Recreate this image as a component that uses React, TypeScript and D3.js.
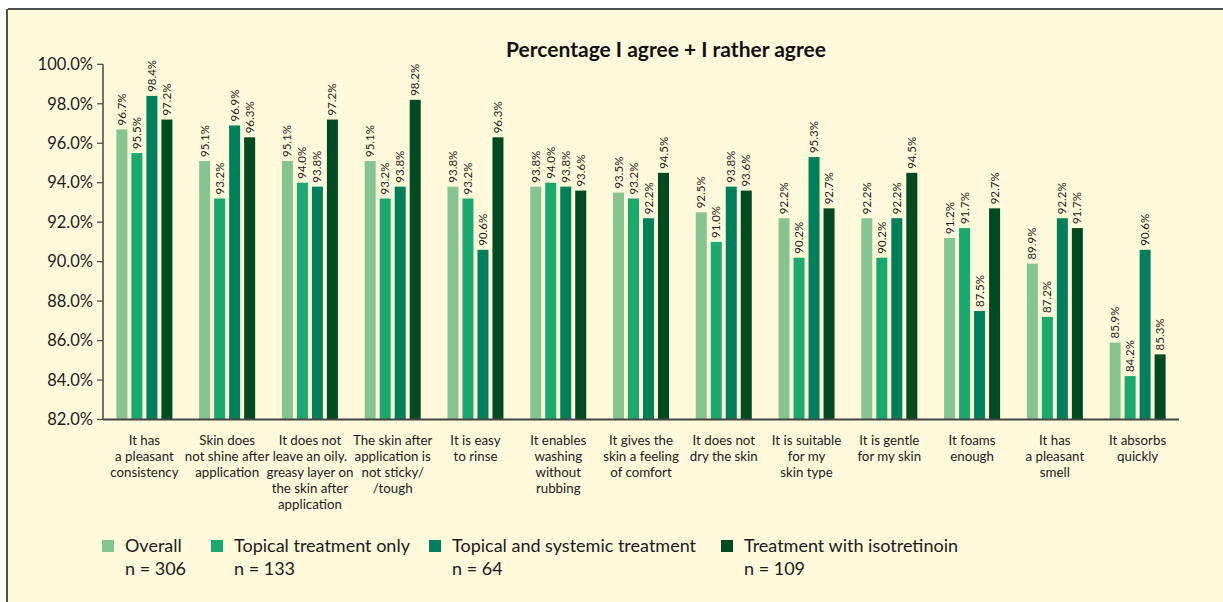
import React from "react";
import * as d3 from "d3";

const categories: string[][] = [
  ["It has", "a pleasant", "consistency"],
  ["Skin does", "not shine after", "application"],
  ["It does not", "leave an oily.", "greasy layer on", "the skin after", "application"],
  ["The skin after", "application is", "not sticky/", "/tough"],
  ["It is easy", "to rinse"],
  ["It enables", "washing", "without", "rubbing"],
  ["It gives the", "skin a feeling", "of comfort"],
  ["It does not", "dry the skin"],
  ["It is suitable", "for my", "skin type"],
  ["It is gentle", "for my skin"],
  ["It foams", "enough"],
  ["It has", "a pleasant", "smell"],
  ["It absorbs", "quickly"],
];

const overall = [96.7, 95.1, 95.1, 95.1, 93.8, 93.8, 93.5, 92.5, 92.2, 92.2, 91.2, 89.9, 85.9];
const topicalOnly = [95.5, 93.2, 94.0, 93.2, 93.2, 94.0, 93.2, 91.0, 90.2, 90.2, 91.7, 87.2, 84.2];
const topicalSystemic = [98.4, 96.9, 93.8, 93.8, 90.6, 93.8, 92.2, 93.8, 95.3, 92.2, 87.5, 92.2, 90.6];
const isotretinoin = [97.2, 96.3, 97.2, 98.2, 96.3, 93.6, 94.5, 93.6, 92.7, 94.5, 92.7, 91.7, 85.3];

const seriesNames = ["Overall", "Topical treatment only", "Topical and systemic treatment", "Treatment with isotretinoin"];
const seriesN = ["n = 306", "n = 133", "n = 64", "n = 109"];
const seriesColors = ["#86c592", "#1aaa6f", "#00805a", "#004a22"];
const yTicks = [82, 84, 86, 88, 90, 92, 94, 96, 98, 100];
const title = "Percentage I agree + I rather agree";

const FONT = "Lato, 'Open Sans', sans-serif";

export default function App() {
  const W = 1223, H = 602;
  const left = 103, right = 1179, top = 64.3, bottom = 419.5;
  const series = [overall, topicalOnly, topicalSystemic, isotretinoin];

  const x = d3.scaleBand<number>().domain(d3.range(categories.length)).range([left, right]).paddingInner(0).paddingOuter(0);
  const y = d3.scaleLinear().domain([82, 100]).range([bottom, top]);
  const barW = 11;
  const barStep = 15;
  const groupW = barStep * 3 + barW;

  const legendX = [102, 211, 429, 721];

  return (
    <svg width={W} height={H} style={{ position: "absolute", left: 0, top: 0 }} fontFamily={FONT}>
      <rect x={0} y={0} width={W} height={H} fill="#ffffff" />
      <rect x={8} y={10} width={W} height={H} fill="#fff9dc" />
      <line x1={8} y1={9} x2={W} y2={9} stroke="#505050" strokeWidth={2} />
      <line x1={7} y1={9} x2={7} y2={H} stroke="#505050" strokeWidth={2} />

      <text x={666} y={57} textAnchor="middle" fontSize={21} fontWeight={700} fill="#111">{title}</text>

      {/* y axis */}
      <line x1={left} y1={top} x2={left} y2={bottom} stroke="#444" strokeWidth={1.5} />
      {yTicks.map((t) => (
        <g key={t}>
          <line x1={left - 6} x2={left} y1={y(t)} y2={y(t)} stroke="#444" strokeWidth={1.2} />
          <text x={93} y={y(t)} dy="0.35em" textAnchor="end" fontSize={16.5} fill="#1a1a1a">{t.toFixed(1)}%</text>
        </g>
      ))}

      {/* bars */}
      {categories.map((cat, i) => {
        const cx = (x(i) as number) + x.bandwidth() / 2;
        const gx = cx - groupW / 2;
        return (
          <g key={i}>
            {series.map((s, k) => {
              const bx = gx + k * barStep;
              const by = y(s[i]);
              return (
                <g key={k}>
                  <rect x={bx} y={by} width={barW} height={bottom - by} fill={seriesColors[k]} />
                  <text
                    transform={`translate(${bx + barW / 2 + 4},${by - 4}) rotate(-90)`}
                    fontSize={11.5}
                    fill="#1a1a1a"
                  >
                    {s[i].toFixed(1)}%
                  </text>
                </g>
              );
            })}
            {cat.map((line, j) => (
              <text key={j} x={cx} y={445 + j * 16} textAnchor="middle" fontSize={13.3} fill="#1a1a1a">{line}</text>
            ))}
          </g>
        );
      })}

      {/* x axis */}
      <line x1={left} y1={bottom} x2={right} y2={bottom} stroke="#444" strokeWidth={1.8} />

      {/* legend */}
      {seriesNames.map((n, k) => (
        <g key={k}>
          <rect x={legendX[k]} y={540} width={12} height={12} fill={seriesColors[k]} />
          <text x={legendX[k] + 23} y={552} fontSize={18} fill="#1a1a1a">{n}</text>
          <text x={legendX[k] + 23} y={575} fontSize={18} fill="#1a1a1a">{seriesN[k]}</text>
        </g>
      ))}
    </svg>
  );
}
